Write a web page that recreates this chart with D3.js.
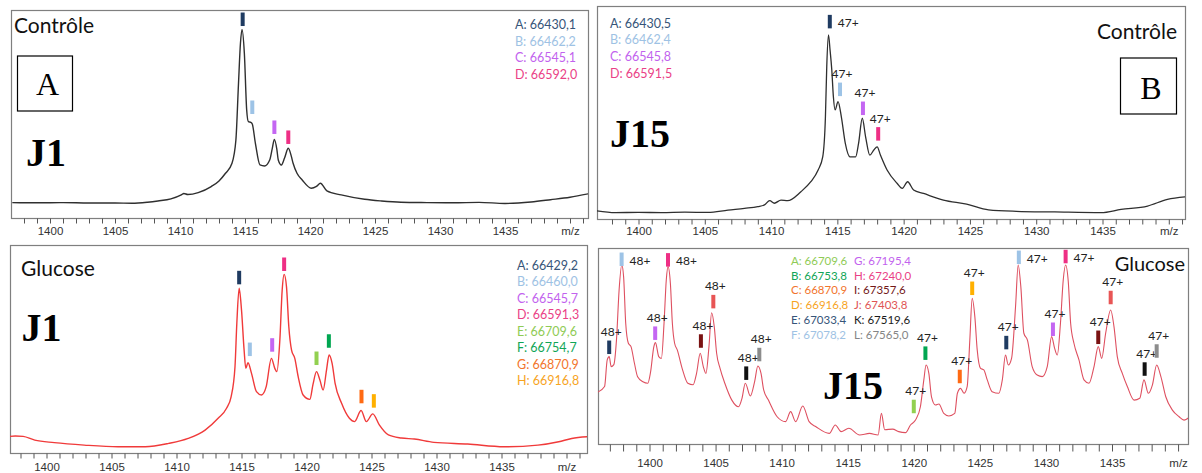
<!DOCTYPE html>
<html><head><meta charset="utf-8">
<script src="https://cdn.jsdelivr.net/npm/d3@7"></script>
<style>body{margin:0;background:#fff;} svg{display:block;}</style>
</head><body>
<svg id="chart" width="1202" height="473"></svg>
<script>
// ---------------- DATA ----------------
const mzTickValues = [1400,1405,1410,1415,1420,1425,1430,1435,1440];
const mzTickLabels = ["1400","1405","1410","1415","1420","1425","1430","1435","m/z"];

// spectra: [m/z, relative intensity %]
const ctrlJ1 = [[1397.1,7.4],[1399.0,7.3],[1401.0,7.4],[1403.0,7.2],[1405.0,7.2],[1406.3,7.1],[1407.5,7.6],[1408.3,8.2],[1409.3,9.2],[1410.1,11.1],[1410.3,11.8],[1410.6,11.3],[1411.4,12.2],[1412.4,15.1],[1413.0,17.8],[1413.5,21.5],[1414.0,26.3],[1414.3,37.5],[1414.5,64.7],[1414.65,84],[1414.77,90.7],[1414.95,79.2],[1415.13,51.9],[1415.26,46.3],[1415.45,46.0],[1415.56,45.2],[1415.8,35.9],[1416.15,25.5],[1416.5,25.0],[1416.9,27.9],[1417.1,33.5],[1417.26,37.8],[1417.45,33],[1417.56,27.9],[1417.8,25.5],[1418.05,29],[1418.33,33.5],[1418.55,30],[1418.7,26.3],[1419.0,21.5],[1419.4,18.3],[1420.1,14.3],[1420.5,15.2],[1420.8,16.7],[1421.3,13],[1422.4,11.1],[1424.2,9],[1425.5,8.2],[1427,7.6],[1429,7.4],[1431,7.3],[1433,7.5],[1435,7.0],[1437,7.7],[1438.5,8.8],[1440,10],[1441.4,11.6]];

const gluJ1 = [[1397.1,7.9],[1397.6,8.2],[1398.2,8.0],[1399.1,6.2],[1400.6,5.0],[1402.9,3.8],[1405.5,3.0],[1407.6,3.0],[1409.4,4.6],[1410.9,7.0],[1412.2,11],[1413.2,16.7],[1413.85,21.5],[1414.2,27],[1414.5,41.5],[1414.64,62.3],[1414.82,79.2],[1415.0,68.8],[1415.2,49.5],[1415.33,40.7],[1415.5,43.4],[1415.77,38.3],[1416.15,29.5],[1416.54,27.9],[1416.9,31.9],[1417.3,45.5],[1417.56,40.7],[1417.72,39.1],[1417.95,54.3],[1418.13,78.4],[1418.28,85.9],[1418.46,80],[1418.64,60.7],[1418.85,49.5],[1419.1,45.5],[1419.36,36.7],[1419.74,27.9],[1420.26,25.8],[1420.5,33],[1420.77,39.1],[1421.03,35.1],[1421.28,30.3],[1421.54,39.9],[1421.74,47.1],[1421.97,43.1],[1422.2,33.5],[1422.7,23.9],[1423.3,16.7],[1423.7,15.1],[1424.2,20.4],[1424.6,15.1],[1425.1,18.8],[1425.6,13.5],[1426.3,8.7],[1427.3,7.2],[1428.3,6.7],[1429.8,5.1],[1432.4,4.3],[1435.2,3.0],[1437.8,3.8],[1439.4,5.4],[1440.4,7.0],[1441.6,7.8]];

const ctrlJ15 = [[1396.8,3.9],[1398.25,3.0],[1400,3.1],[1401.75,3.0],[1403.5,3.2],[1405.25,3.1],[1406.75,4.2],[1408.0,5.0],[1409.0,5.8],[1409.5,6.6],[1409.9,8.6],[1410.25,7.4],[1410.75,8.9],[1411.25,8.6],[1412.25,12.8],[1413.0,17.5],[1413.55,23],[1413.9,29.3],[1414.1,48],[1414.2,71.5],[1414.33,86.4],[1414.45,79.3],[1414.58,70],[1414.7,57.4],[1414.83,51.2],[1415.05,55.1],[1415.3,48],[1415.6,35.5],[1415.95,29.2],[1416.38,29.2],[1416.6,35.5],[1416.88,47.3],[1417.13,38.6],[1417.45,30],[1417.75,32.4],[1418.0,33.9],[1418.25,30],[1418.75,23],[1419.5,16.8],[1419.9,14.4],[1420.3,17.5],[1420.75,13.6],[1421.5,12],[1423,8.9],[1424.75,7],[1426.4,4.3],[1428.5,3.6],[1431.4,3.3],[1434.9,3.0],[1436.4,4.5],[1438.4,6.1],[1439.9,9.2],[1441.3,10.4]];

const gluJ15 = [[1396.1,26.5],[1396.6,29.3],[1396.8,42.9],[1396.95,44.6],[1397.1,39.5],[1397.3,40.5],[1397.5,53],[1397.7,78.6],[1397.9,91.3],[1398.04,85.4],[1398.2,61.6],[1398.4,51.4],[1398.6,49.7],[1398.86,41.2],[1399.1,34.3],[1399.5,31.8],[1399.87,31],[1400.08,36.7],[1400.33,49.7],[1400.45,51.7],[1400.7,44.6],[1400.9,43.7],[1401.1,61.6],[1401.27,83.7],[1401.4,90.5],[1401.58,82],[1401.73,61.6],[1401.9,51.4],[1402.1,48],[1402.47,38.6],[1402.9,31],[1403.3,30.2],[1403.56,36],[1403.84,46.3],[1404.07,39.5],[1404.27,36],[1404.5,49.7],[1404.7,67],[1404.9,59.9],[1405.08,46.3],[1405.34,38.6],[1405.7,31],[1406.23,22.4],[1406.74,19],[1407.0,23.3],[1407.25,31],[1407.63,24.5],[1407.96,32],[1408.2,39.8],[1408.44,36],[1408.64,27.6],[1409.0,22.4],[1409.66,13.9],[1410.3,11.4],[1410.68,16.5],[1411.06,11.4],[1411.6,19.4],[1412.08,11.4],[1412.6,8.8],[1413.6,5.4],[1414.06,9.7],[1414.5,6.3],[1415.08,8.0],[1415.9,4.6],[1416.65,5.4],[1417.3,4.6],[1417.55,15.6],[1417.8,7.3],[1418.4,7.6],[1418.86,6.3],[1419.37,5.8],[1419.75,9.7],[1420.13,12.2],[1420.5,19],[1420.76,32.7],[1420.93,40.3],[1421.14,36],[1421.34,24.1],[1421.64,19.9],[1421.9,20.4],[1422.27,15.6],[1422.65,14.3],[1423.1,15.6],[1423.3,25.9],[1423.54,28.4],[1423.8,25.9],[1424.04,29.3],[1424.24,53],[1424.42,74.3],[1424.62,65],[1424.8,48],[1425.05,38.6],[1425.3,37.8],[1425.56,32.7],[1425.93,26.7],[1426.44,25.9],[1426.7,32.7],[1426.94,45.4],[1427.15,40.3],[1427.4,43.7],[1427.7,70],[1427.9,91.3],[1428.1,80.3],[1428.33,56.5],[1428.6,53],[1428.96,39.5],[1429.34,35.2],[1429.72,34.4],[1430.1,39.5],[1430.43,54.8],[1430.66,48.8],[1430.86,45.4],[1431.1,61.6],[1431.31,83.7],[1431.49,91.3],[1431.69,82.9],[1431.87,61.6],[1432.12,51.4],[1432.5,42.9],[1432.88,32.7],[1433.26,31],[1433.64,39.5],[1433.96,49.7],[1434.22,43.7],[1434.52,56.5],[1434.9,68.4],[1435.15,59.9],[1435.4,44.6],[1435.78,36],[1436.16,29.3],[1436.67,22.4],[1437.1,23.3],[1437.42,32.7],[1437.75,25.9],[1438.06,30.2],[1438.38,40.3],[1438.7,34.4],[1439.07,24.1],[1439.57,17.3],[1440.08,13.9],[1440.45,12.2],[1440.9,13.9]];

// peak markers: m/z position, level (bottom of marker, %), colour key
const ctrlJ1MarkMz = [1414.82,1415.56,1417.26,1418.33];
const ctrlJ1MarkLevel = [92.3,50,40.4,35.6];
const ctrlJ1MarkKeys = ["navy","ltblue","violet","pink"];

const gluJ1MarkMz = [1414.82,1415.64,1417.36,1418.28,1420.77,1421.72,1424.23,1425.18];
const gluJ1MarkLevel = [81.1,46.6,48.7,87.5,42.3,50.6,23.9,21.8];
const gluJ1MarkKeys = ["navy","ltblue","violet","pink","ltgreen","green","orange","gold"];

const ctrlJ15MarkMz = [1414.43,1415.2,1416.93,1418.08];
const ctrlJ15MarkLevel = [89.5,57.7,48.8,36.8];
const ctrlJ15MarkKeys = ["navy","ltblue","violet","pink"];
const ctrlJ15Charges = ["47+","47+","47+","47+"];

const gluJ15MarkMz = [1396.95,1397.89,1400.43,1401.4,1403.89,1404.83,1407.32,1408.31,
                      1420.0,1420.88,1423.48,1424.42,1427.0,1427.95,1430.53,1431.49,1433.96,1434.9,1437.47,1438.38];
const gluJ15MarkLevel = [45.9,90.8,53.1,90.5,49.1,69.2,32.7,42.2,
                         15.7,42.9,31,76,48.3,91.8,55.1,92.2,51,71.3,34.8,44];
const gluJ15MarkKeys = ["navy","ltblue","violet","pink","darkred","salmon","black","gray",
                        "ltgreen","green","orange","gold","navy","ltblue","violet","pink","darkred","salmon","black","gray"];
const gluJ15Charges = ["48+","48+","48+","48+","48+","48+","48+","48+",
                       "47+","47+","47+","47+","47+","47+","47+","47+","47+","47+","47+","47+"];

// legends
const ctrlJ1Legend = ["A: 66430,1","B: 66462,2","C: 66545,1","D: 66592,0"];
const ctrlJ1LegendKeys = ["navy","ltblue","violet","pink"];
const gluJ1Legend = ["A: 66429,2","B: 66460,0","C: 66545,7","D: 66591,3","E: 66709,6","F: 66754,7","G: 66870,9","H: 66916,8"];
const gluJ1LegendKeys = ["navy","ltblue","violet","pink","ltgreen","green","orange","gold"];
const ctrlJ15Legend = ["A: 66430,5","B: 66462,4","C: 66545,8","D: 66591,5"];
const ctrlJ15LegendKeys = ["navy","ltblue","violet","pink"];
const gluJ15Legend = ["A: 66709,6","B: 66753,8","C: 66870,9","D: 66916,8","E: 67033,4","F: 67078,2",
                      "G: 67195,4","H: 67240,0","I: 67357,6","J: 67403,8","K: 67519,6","L: 67565,0"];
const gluJ15LegendKeys = ["ltgreen","green","orange","gold","navy","ltblue","violet","pink","darkred","salmon","black","gray"];

// ---------------- STYLE ----------------
const barColor = {navy:"#1F3B61", ltblue:"#9DC3E6", violet:"#C466F2", pink:"#EE2F85", ltgreen:"#92D050", green:"#00A651",
  orange:"#FF6A13", gold:"#FFB000", darkred:"#7A1212", salmon:"#E85555", black:"#111111", gray:"#8C8C8C"};
const textColor = {navy:"#365579", ltblue:"#9EC2E4", violet:"#C262EE", pink:"#EA3F86", ltgreen:"#8FCB55", green:"#10A556",
  orange:"#F2742C", gold:"#F7A41F", darkred:"#731818", salmon:"#E05555", black:"#1A1A1A", gray:"#858585"};

const svg = d3.select("#chart");
svg.append("rect").attr("width",1202).attr("height",473).attr("fill","#fff");

function drawPanel(p) {
  const L = p.layout;
  const x = d3.scaleLinear().domain([1400,1435]).range([L.x0, L.x1]);
  const y = d3.scaleLinear().domain([0,100]).range([L.b, L.t]);
  const g = svg.append("g");
  const clipId = "clip-" + p.id;
  svg.append("clipPath").attr("id", clipId).append("rect")
    .attr("x", L.l).attr("y", L.t).attr("width", L.r - L.l).attr("height", L.b - L.t);

  g.append("rect").attr("x", L.l + 0.5).attr("y", L.t + 0.5)
    .attr("width", L.r - L.l).attr("height", L.b - L.t)
    .attr("fill", "#fff").attr("stroke", "#7f7f7f").attr("stroke-width", 1.2);

  // axis
  const lo = Math.ceil(x.invert(L.l + 2)), hi = Math.floor(x.invert(L.r - 2));
  const axis = d3.axisBottom(x).tickValues(d3.range(lo, hi + 1)).tickSize(L.tickLen)
    .tickFormat(d => { const i = mzTickValues.indexOf(d); return i >= 0 ? mzTickLabels[i] : ""; });
  const ag = g.append("g").attr("transform", `translate(0,${L.b + 0.5})`).call(axis);
  ag.select(".domain").remove();
  ag.selectAll(".tick line").attr("stroke", "#555").attr("stroke-width", 1);
  ag.selectAll(".tick text").attr("y", L.labelDy).attr("dy", 0)
    .attr("font-family", "'Liberation Sans', Arial, sans-serif").attr("font-size", 11.5).attr("fill", "#333");

  // spectrum
  const line = d3.line().x(d => x(d[0])).y(d => y(d[1])).curve(d3.curveMonotoneX);
  g.append("path").datum(p.spectrum).attr("clip-path", `url(#${clipId})`)
    .attr("d", line).attr("fill", "none").attr("stroke", p.lineColor)
    .attr("stroke-width", p.lineWidth).attr("stroke-linejoin", "round");

  // markers
  const barH = 13.5, barW = 4;
  p.markMz.forEach((mz, i) => {
    const bx = x(mz), bb = y(p.markLevel[i]), bt = bb - barH;
    g.append("rect").attr("x", bx - barW / 2).attr("y", bt).attr("width", barW).attr("height", barH)
      .attr("fill", barColor[p.markKeys[i]]);
    if (p.charges) {
      const right = (bt - L.t) < 12;
      g.append("text").text(p.charges[i])
        .attr("x", right ? bx + 8 : bx + 2).attr("y", right ? bb - 1.5 : bt - 4.5)
        .attr("text-anchor", right ? "start" : "middle")
        .attr("font-family", "Lato, 'Open Sans', sans-serif").attr("font-size", 12).attr("fill", "#222");
    }
  });

  // legend
  const Lg = p.legendPos;
  p.legend.forEach((t, i) => {
    const col = Math.floor(i / Lg.rows), row = i % Lg.rows;
    g.append("text").text(t).attr("x", Lg.x + col * Lg.colW).attr("y", Lg.y + row * Lg.dy)
      .attr("font-family", "Lato, 'Open Sans', sans-serif").attr("font-size", Lg.size)
      .attr("fill", textColor[p.legendKeys[i]]);
  });

  // condition label
  g.append("text").text(p.cond.text).attr("x", p.cond.x).attr("y", p.cond.y)
    .attr("text-anchor", p.cond.anchor).attr("font-family", "Lato, 'Open Sans', sans-serif")
    .attr("font-size", p.cond.size).attr("fill", "#111");
  // day label
  g.append("text").text(p.day.text).attr("x", p.day.x).attr("y", p.day.y)
    .attr("font-family", "'Liberation Serif', 'Times New Roman', serif").attr("font-weight", "bold")
    .attr("font-size", 40).attr("fill", "#000");
}

drawPanel({id:"tl", layout:{l:11,r:588,t:10,b:218,x0:50,x1:505,tickLen:5,labelDy:16},
  spectrum: ctrlJ1, lineColor:"#2f2f2f", lineWidth:1.4,
  markMz: ctrlJ1MarkMz, markLevel: ctrlJ1MarkLevel, markKeys: ctrlJ1MarkKeys, charges: null,
  legend: ctrlJ1Legend, legendKeys: ctrlJ1LegendKeys, legendPos:{x:515,y:29,dy:16.5,rows:8,colW:0,size:12.5},
  cond:{text:"Contrôle", x:14, y:33, anchor:"start", size:21}, day:{text:"J1", x:26, y:166}});

drawPanel({id:"bl", layout:{l:10,r:587,t:245,b:453,x0:46.5,x1:501.5,tickLen:5,labelDy:17.5},
  spectrum: gluJ1, lineColor:"#F03A3A", lineWidth:1.4,
  markMz: gluJ1MarkMz, markLevel: gluJ1MarkLevel, markKeys: gluJ1MarkKeys, charges: null,
  legend: gluJ1Legend, legendKeys: gluJ1LegendKeys, legendPos:{x:517,y:269.5,dy:16.55,rows:8,colW:0,size:12.5},
  cond:{text:"Glucose", x:21, y:276, anchor:"start", size:21}, day:{text:"J1", x:21.5, y:341}});

drawPanel({id:"tr", layout:{l:597,r:1185,t:6,b:219,x0:638.5,x1:1102.5,tickLen:5,labelDy:15},
  spectrum: ctrlJ15, lineColor:"#2f2f2f", lineWidth:1.3,
  markMz: ctrlJ15MarkMz, markLevel: ctrlJ15MarkLevel, markKeys: ctrlJ15MarkKeys, charges: ctrlJ15Charges,
  legend: ctrlJ15Legend, legendKeys: ctrlJ15LegendKeys, legendPos:{x:610,y:27.5,dy:16.7,rows:8,colW:0,size:12.5},
  cond:{text:"Contrôle", x:1177, y:39, anchor:"end", size:21}, day:{text:"J15", x:610, y:147}});

drawPanel({id:"br", layout:{l:598,r:1188,t:248,b:444,x0:649.5,x1:1112,tickLen:7,labelDy:22},
  spectrum: gluJ15, lineColor:"#DE5060", lineWidth:1.1,
  markMz: gluJ15MarkMz, markLevel: gluJ15MarkLevel, markKeys: gluJ15MarkKeys, charges: gluJ15Charges,
  legend: gluJ15Legend, legendKeys: gluJ15LegendKeys, legendPos:{x:791,y:265,dy:14.7,rows:6,colW:63,size:11.5},
  cond:{text:"Glucose", x:1185, y:271, anchor:"end", size:20}, day:{text:"J15", x:823, y:399}});

// panel letters in boxes
const letterBoxes = [{t:"A", x:17.5, y:56, s:55, tx:47.5, ty:95}, {t:"B", x:1120.5, y:58, s:56, tx:1151, ty:99}];
letterBoxes.forEach(b => {
  svg.append("rect").attr("x", b.x).attr("y", b.y).attr("width", b.s).attr("height", b.s)
    .attr("fill", "#fff").attr("stroke", "#000").attr("stroke-width", 1.2);
  svg.append("text").text(b.t).attr("x", b.tx).attr("y", b.ty).attr("text-anchor", "middle")
    .attr("font-family", "'Liberation Serif', 'Times New Roman', serif").attr("font-size", 32).attr("fill", "#000");
});
</script>
</body></html>
